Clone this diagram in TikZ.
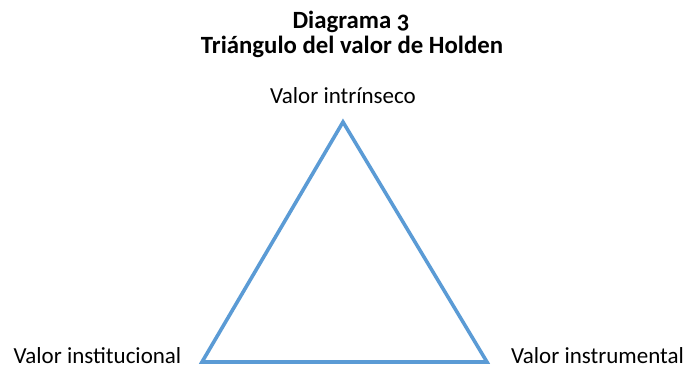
\documentclass[tikz,border=0pt]{standalone}
\usepackage{fontspec}
\setmainfont{Carlito}[Numbers=OldStyle]
\definecolor{triblue}{HTML}{5B9BD5}
\tikzset{
  lbl/.style={font=\fontsize{23}{27}\selectfont, inner sep=0pt, anchor=base},
  ttl/.style={font=\fontsize{24.8}{25}\selectfont\bfseries, inner sep=0pt, anchor=base},
  edge/.style={draw=triblue, line width=3.6pt, line join=miter}
}
\begin{document}
\begin{tikzpicture}[x=1pt,y=-1pt]
\useasboundingbox (0,0) rectangle (683,368);
\node[ttl] (title1) at (351,28) {Diagrama 3};
\node[ttl] (title2) at (352,53) {Triángulo del valor de Holden};
\coordinate (top) at (343,122);
\coordinate (bl) at (202,362);
\coordinate (br) at (487,362);
\draw[edge] (top) -- (br) -- (bl) -- cycle;
\node[lbl] (lt) at (343,103) {Valor intrínseco};
\node[lbl] (ll) at (97.5,363) {Valor institucional};
\node[lbl] (lr) at (597.5,363) {Valor instrumental};
\end{tikzpicture}
\end{document}
